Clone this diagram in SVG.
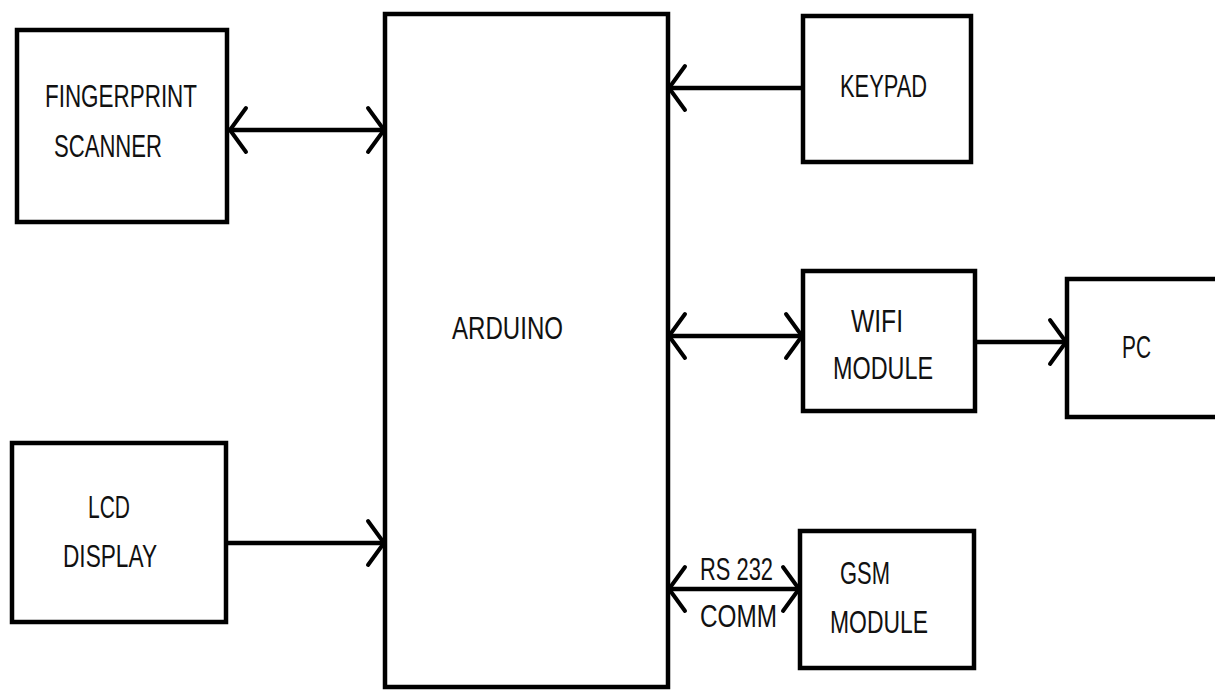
<svg xmlns="http://www.w3.org/2000/svg" width="1215" height="691" viewBox="0 0 1215 691">
<style>
.box{fill:#fff;stroke:#000;stroke-width:4.5}
.lbl{font-family:"Liberation Sans",Arial,sans-serif;font-size:32px;fill:#111}
.con{stroke:#000;stroke-width:4.5;fill:none}
</style>
<defs>
<marker id="ah" viewBox="0 0 22 50" refX="20" refY="25" markerWidth="22" markerHeight="50" markerUnits="userSpaceOnUse" orient="auto-start-reverse">
<path d="M3,3 L19,25 L3,47" fill="none" stroke="#000" stroke-width="4" stroke-linecap="round" stroke-linejoin="round"/>
</marker>
</defs>
<rect width="1215" height="691" fill="#fff"/>
<g id="arduino">
<rect class="box" x="385" y="14" width="283" height="673"/>
<text class="lbl" x="452" y="339" textLength="111" lengthAdjust="spacingAndGlyphs">ARDUINO</text>
</g>
<g id="fingerprint">
<rect class="box" x="17" y="30" width="210" height="192"/>
<text class="lbl" x="45" y="107" textLength="152" lengthAdjust="spacingAndGlyphs">FINGERPRINT</text>
<text class="lbl" x="54" y="157" textLength="108" lengthAdjust="spacingAndGlyphs">SCANNER</text>
</g>
<g id="lcd">
<rect class="box" x="12" y="443" width="214" height="179"/>
<text class="lbl" x="88" y="518" textLength="42" lengthAdjust="spacingAndGlyphs">LCD</text>
<text class="lbl" x="63" y="567" textLength="94" lengthAdjust="spacingAndGlyphs">DISPLAY</text>
</g>
<g id="keypad">
<rect class="box" x="803" y="16" width="168" height="146"/>
<text class="lbl" x="840" y="97" textLength="87" lengthAdjust="spacingAndGlyphs">KEYPAD</text>
</g>
<g id="wifi">
<rect class="box" x="803" y="271" width="172" height="140"/>
<text class="lbl" x="851" y="332" textLength="52" lengthAdjust="spacingAndGlyphs">WIFI</text>
<text class="lbl" x="833" y="379" textLength="100" lengthAdjust="spacingAndGlyphs">MODULE</text>
</g>
<g id="pc">
<rect class="box" x="1067" y="279" width="160" height="138"/>
<text class="lbl" x="1122" y="358" textLength="29" lengthAdjust="spacingAndGlyphs">PC</text>
</g>
<g id="gsm">
<rect class="box" x="800" y="531" width="174" height="137"/>
<text class="lbl" x="840" y="584" textLength="50" lengthAdjust="spacingAndGlyphs">GSM</text>
<text class="lbl" x="830" y="633" textLength="98" lengthAdjust="spacingAndGlyphs">MODULE</text>
</g>
<g id="connectors">
<line class="con" x1="229" y1="130" x2="385" y2="130" marker-start="url(#ah)" marker-end="url(#ah)"/>
<line class="con" x1="226" y1="543" x2="385" y2="543" marker-end="url(#ah)"/>
<line class="con" x1="803" y1="88" x2="668" y2="88" marker-end="url(#ah)"/>
<line class="con" x1="668" y1="336" x2="803" y2="336" marker-start="url(#ah)" marker-end="url(#ah)"/>
<line class="con" x1="975" y1="342" x2="1067" y2="342" marker-end="url(#ah)"/>
<line class="con" x1="668" y1="589" x2="800" y2="589" marker-start="url(#ah)" marker-end="url(#ah)"/>
<text class="lbl" x="700" y="580" textLength="73" lengthAdjust="spacingAndGlyphs">RS 232</text>
<text class="lbl" x="700" y="627" textLength="77" lengthAdjust="spacingAndGlyphs">COMM</text>
</g>
</svg>
